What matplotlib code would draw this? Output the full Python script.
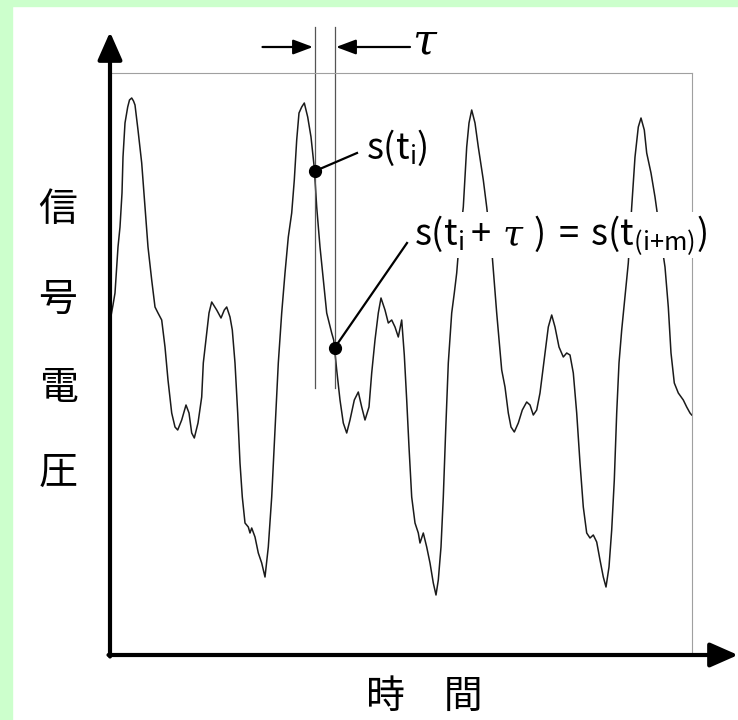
import numpy as np
import matplotlib.pyplot as plt
from matplotlib.patches import Rectangle

plt.rcParams['font.family'] = ['Noto Sans CJK JP', 'DejaVu Sans']
plt.rcParams['mathtext.fontset'] = 'custom'
plt.rcParams['mathtext.rm'] = 'Noto Sans CJK JP'
plt.rcParams['mathtext.it'] = 'DejaVu Serif:italic'

# signal (time, voltage), arbitrary units
t = np.array([1, 3, 5, 8, 10, 12, 13, 15, 17.7, 19.5, 21.7, 23.5, 25, 28, 31.7, 35, 38, 41.7, 45, 48,
              51.7, 55, 58, 61.7, 65, 67.7, 71.7, 76, 79, 81.7, 84.3, 88, 91.7, 93.3, 96.7, 99,
              101.7, 106.7, 111, 114.3, 116.7, 120, 122.3, 125, 127.7, 130, 132.3, 135, 138.3, 140,
              141.7, 145, 148.3, 151.7, 155, 158.3, 161.7, 165, 168.3, 171.7, 175, 178.3, 181.7,
              184.3, 186.7, 189, 191.7, 194.3, 197.7, 201, 204.3, 206.7, 210, 213.3, 216.7, 221.7,
              223.7, 226.7, 230, 233.3, 236.7, 240, 244.3, 248.3, 251.7, 255, 259, 261.7, 265, 268.3,
              271, 275, 278.3, 281.7, 285, 288.3, 291.7, 294.3, 296.7, 299, 301.7, 305, 308.3, 310,
              313.3, 316.7, 320, 323.3, 326, 328.3, 331, 333.3, 335.7, 338.3, 341.7, 344.3, 346.7,
              348.3, 353.3, 356.7, 359, 361.7, 365, 368.3, 373.3, 376.7, 382.3, 386.7, 391.7, 395,
              398.3, 401, 404.3, 408.3, 412.3, 416.7, 420, 423.3, 426.7, 430, 435, 438.3, 441.7, 445,
              449, 453.3, 456.7, 460, 463.3, 466.7, 470, 473.3, 476.7, 480, 483.3, 486.7, 490, 493.3,
              496, 499, 501.7, 504.3, 506.7, 509, 511.7, 515, 518.3, 521.7, 525, 528.3, 531, 534.3,
              536.7, 541, 545, 550, 555, 558.3, 561, 564.3, 568.3, 573.3, 576.7, 580, 581.7])
v = np.array([339, 350, 362, 408, 428, 462, 498, 532, 548, 555, 557, 554, 550, 525, 492, 448, 408, 375, 348, 342,
              335, 308, 275, 242, 228, 225, 235, 250, 242, 222, 217, 232, 258, 292, 322, 342,
              353, 345, 337, 345, 348, 338, 325, 292, 242, 192, 158, 132, 128, 122,
              127, 118, 102, 92, 78, 108, 158, 225, 292, 342, 382, 418, 442,
              475, 515, 542, 548, 552, 538, 518, 487, 448, 408, 375, 342, 322,
              315, 285, 255, 232, 222, 235, 255, 263, 248, 235, 248, 282, 315, 342,
              357, 345, 332, 335, 328, 318, 335, 300, 255, 208, 158, 132, 122, 112,
              122, 108, 92, 72, 60, 75, 108, 158, 225, 292, 342, 362, 382,
              402, 448, 508, 532, 545, 532, 508, 475, 448, 398, 342, 285, 268,
              242, 228, 223, 232, 245, 253, 250, 240, 245, 262, 302, 328, 340, 328,
              308, 298, 302, 300, 282, 242, 192, 148, 122, 117, 120, 113, 95, 78,
              68, 88, 125, 175, 242, 292, 325, 358, 392, 448, 498, 528, 537, 525,
              502, 482, 458, 422, 388, 348, 302, 272, 262, 255, 248, 242, 240])

t_i = 204.5
tau = 20
ylabel_chars = ['信', '号', '電', '圧']
ylabel_rows = [210, 300, 388, 473]
xlabel_text = '時　間'
label_1 = r'$\mathrm{s(t}_{\mathrm{i}}\mathrm{)}$'
label_2 = r'$\mathrm{s(t}_{\mathrm{i}}\,\mathrm{+}\ \tau\ \mathrm{)}\,\mathrm{=}\,\mathrm{s(t}_{\mathrm{(i{+}m)}}\mathrm{)}$'

W, H = 738, 720
fig = plt.figure(figsize=(W / 100, H / 100), dpi=100)
fig.patch.set_facecolor('white')
green = '#ccffcc'
fig.add_artist(Rectangle((0, 0), 12 / W, 1, transform=fig.transFigure, color=green, zorder=0))
fig.add_artist(Rectangle((0, 1 - 6 / H), 1, 6 / H, transform=fig.transFigure, color=green, zorder=0))

ax = fig.add_axes([110 / W, 65 / H, 582 / W, 582 / H])
ax.set_xlim(0, 582)
ax.set_ylim(0, 582)
ax.set_xticks([])
ax.set_yticks([])
ax.patch.set_alpha(0)
for s in ax.spines.values():
    s.set_color('#a0a0a0')
    s.set_linewidth(0.8)

ax.plot(t, v, color='#1a1a1a', lw=1.1)

# axes arrows
arr = dict(arrowstyle='-|>,head_length=1.7,head_width=0.75', color='k', lw=3,
           shrinkA=0, shrinkB=0, mutation_scale=10)
ax.annotate('', xy=(0, 623), xytext=(0, -1.5), arrowprops=arr, annotation_clip=False)
ax.annotate('', xy=(628, 0), xytext=(-1.5, 0), arrowprops=arr, annotation_clip=False)

# tau markers
for x in [t_i, t_i + tau]:
    ax.plot([x, x], [267, 628], color='#555555', lw=0.9, clip_on=False)
small = dict(arrowstyle='-|>,head_length=1.2,head_width=0.45', color='k', lw=1.6,
             shrinkA=0, shrinkB=0, mutation_scale=10)
ax.annotate('', xy=(t_i - 1.5, 608), xytext=(t_i - 52, 608), arrowprops=small, annotation_clip=False)
ax.annotate('', xy=(t_i + tau + 1.5, 608), xytext=(300, 608), arrowprops=small, annotation_clip=False)
ax.text(302, 614, 'τ', family='DejaVu Serif', style='italic', fontsize=31,
        va='center', ha='left')

# points and leaders
p1 = np.interp(t_i, t, v)
p2 = np.interp(t_i + tau, t, v)
ax.plot([t_i, 247], [p1, 502], color='k', lw=1.6, clip_on=False)
ax.plot([t_i + tau, 297], [p2, 412], color='k', lw=1.6, clip_on=False)
ax.plot([t_i, t_i + tau], [p1, p2], 'o', color='k', ms=8.5, clip_on=False)
ax.text(256, 507, label_1, fontsize=26, va='center', ha='left')
ax.text(304, 420, label_2, fontsize=26, va='center', ha='left',
        bbox=dict(facecolor='white', edgecolor='none', pad=1))

for ch, row in zip(ylabel_chars, ylabel_rows):
    fig.text(58 / W, 1 - row / H, ch, fontsize=28, ha='center', va='center')
fig.text(424 / W, 1 - 697 / H, xlabel_text, fontsize=28, ha='center', va='center')

fig.savefig('out.png', dpi=100)
